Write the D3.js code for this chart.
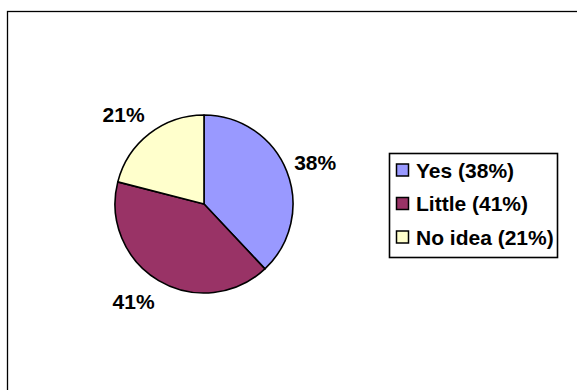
<!DOCTYPE html>
<html>
<head>
<meta charset="utf-8">
<script src="https://cdn.jsdelivr.net/npm/d3@7"></script>
<style>
  html, body { margin: 0; padding: 0; background: #fff; }
  svg { display: block; }
  text { font-family: "Liberation Sans", Arial, sans-serif; font-weight: bold; fill: #000; }
</style>
</head>
<body>
<svg id="chart" width="577" height="390"></svg>
<script>
// Survey answers and their shares (percent)
const categories = ["Yes", "Little", "No idea"];
const values = [38, 41, 21];
const colors = ["#9999FF", "#993366", "#FFFFCC"];

const svg = d3.select("#chart");

// Chart area frame (runs past the right and bottom edges)
svg.append("rect")
  .attr("x", 7.5).attr("y", 11.5)
  .attr("width", 700).attr("height", 500)
  .attr("fill", "none").attr("stroke", "#000").attr("stroke-width", 1.3);

const cx = 204, cy = 204, radius = 89;

const pie = d3.pie().sort(null).value(d => d.value);
const data = categories.map((c, i) => ({ name: c, value: values[i], color: colors[i] }));
const arcs = pie(data);

const arc = d3.arc().innerRadius(0).outerRadius(radius);

const g = svg.append("g").attr("transform", `translate(${cx},${cy})`);

g.selectAll("path.slice")
  .data(arcs)
  .join("path")
  .attr("class", "slice")
  .attr("d", arc)
  .attr("fill", d => d.data.color)
  .attr("stroke", "#000")
  .attr("stroke-width", 1.6)
  .attr("stroke-linejoin", "round");

// Outside labels: anchored just beyond the rim, text grows away from the pie
const labelR = 97;
function midDir(d) {
  const a = (d.startAngle + d.endAngle) / 2;
  return [Math.sin(a), -Math.cos(a)];
}

g.selectAll("text.pct")
  .data(arcs)
  .join("text")
  .attr("class", "pct")
  .attr("x", d => labelR * midDir(d)[0])
  .attr("y", d => labelR * midDir(d)[1] + 16 * midDir(d)[1])
  .attr("text-anchor", d => midDir(d)[0] >= 0 ? "start" : "end")
  .attr("dy", "0.36em")
  .style("font-size", "21px")
  .text(d => `${d.data.value}%`);

// Legend
const lx = 389, ly = 153, lw = 168, lh = 104;
const legend = svg.append("g");
legend.append("rect")
  .attr("x", lx + 0.5).attr("y", ly + 0.5)
  .attr("width", lw).attr("height", lh)
  .attr("fill", "#fff").attr("stroke", "#000").attr("stroke-width", 1.6);

const rowY = d3.scalePoint().domain(categories).range([170, 237]);

const items = legend.selectAll("g.item")
  .data(data)
  .join("g")
  .attr("class", "item")
  .attr("transform", d => `translate(0,${rowY(d.name)})`);

items.append("rect")
  .attr("x", 396.5).attr("y", -6)
  .attr("width", 12).attr("height", 12)
  .attr("fill", d => d.color)
  .attr("stroke", "#000").attr("stroke-width", 1.5);

items.append("text")
  .attr("x", 416)
  .attr("dy", "0.36em")
  .style("font-size", "21px")
  .text(d => `${d.name} (${d.value}%)`);
</script>
</body>
</html>
